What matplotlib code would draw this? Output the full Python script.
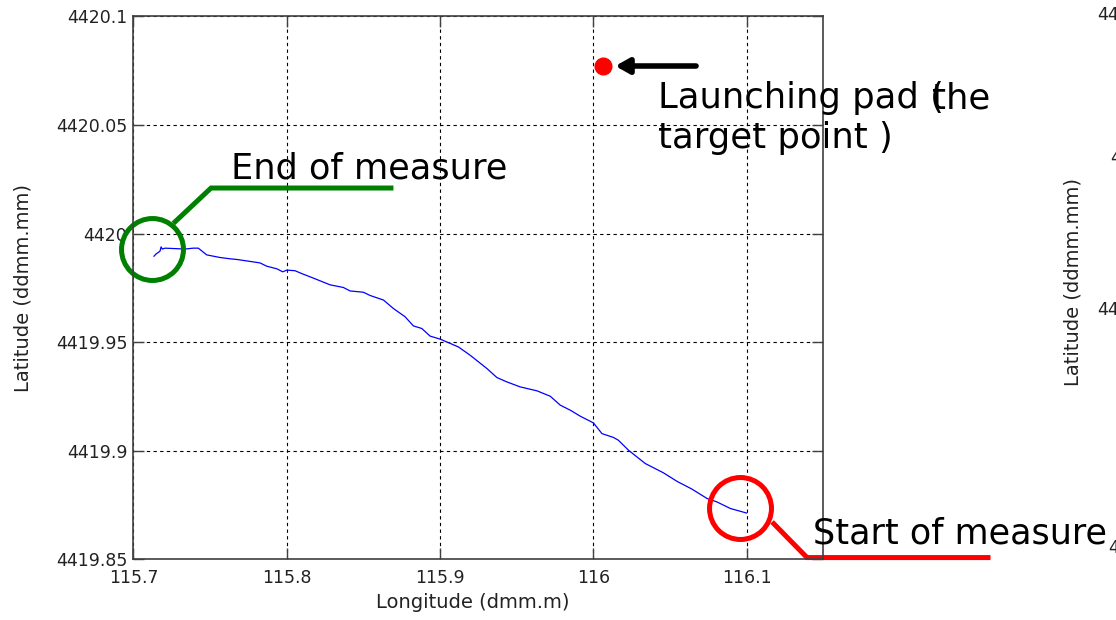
import matplotlib
matplotlib.use("Agg")
import matplotlib.pyplot as plt

# GPS track (longitude in dmm.m, latitude in ddmm.mm)
lon = [115.7134, 115.7147, 115.7173, 115.7180, 115.7188, 115.7206, 115.7304, 115.7336,
       115.7390, 115.7423, 115.7478, 115.7565, 115.7630, 115.7674, 115.7760, 115.7826,
       115.7869, 115.7935, 115.7974, 115.8000, 115.8054, 115.8108, 115.8163, 115.8283,
       115.8369, 115.8413, 115.8500, 115.8544, 115.8631, 115.8696, 115.8772, 115.8826,
       115.8881, 115.8935, 115.9001, 115.9120, 115.9196, 115.9305, 115.9371, 115.9436,
       115.9523, 115.9632, 115.9719, 115.9784, 115.9849, 115.9915, 116.0001, 116.0056,
       116.0132, 116.0164, 116.0230, 116.0339, 116.0458, 116.0546, 116.0644, 116.0742,
       116.0807, 116.0894, 116.1000]
lat = [4419.9896, 4419.9906, 4419.9919, 4419.9939, 4419.9929, 4419.9933, 4419.9930, 4419.9929,
       4419.9933, 4419.9933, 4419.9902, 4419.9890, 4419.9884, 4419.9881, 4419.9872, 4419.9865,
       4419.9850, 4419.9838, 4419.9824, 4419.9832, 4419.9829, 4419.9813, 4419.9798, 4419.9764,
       4419.9752, 4419.9736, 4419.9730, 4419.9715, 4419.9694, 4419.9655, 4419.9617, 4419.9575,
       4419.9563, 4419.9528, 4419.9514, 4419.9478, 4419.9440, 4419.9379, 4419.9337, 4419.9317,
       4419.9294, 4419.9276, 4419.9251, 4419.9210, 4419.9187, 4419.9159, 4419.9128, 4419.9079,
       4419.9061, 4419.9048, 4419.9002, 4419.8941, 4419.8898, 4419.8859, 4419.8823, 4419.8780,
       4419.8764, 4419.8734, 4419.8713]

# launching pad (target point)
pad_lon = [116.0063]
pad_lat = [4420.0772]

xticks = [115.7, 115.8, 115.9, 116.0, 116.1]
xtick_labels = ["115.7", "115.8", "115.9", "116", "116.1"]
yticks = [4419.85, 4419.9, 4419.95, 4420.0, 4420.05, 4420.1]
ytick_labels = ["4419.85", "4419.9", "4419.95", "4420", "4420.05", "4420.1"]

# callouts
end_circle = (115.7123, 4419.9927)
end_leader_x = [115.7260, 115.7506, 115.8696]
end_leader_y = [4420.0047, 4420.0210, 4420.0210]
start_circle = (116.0959, 4419.8738)
start_leader_x = [116.1166, 116.1394, 116.2591]
start_leader_y = [4419.8672, 4419.8508, 4419.8508]

fig = plt.figure(figsize=(11.16, 6.2), dpi=100)
ax = fig.add_axes([0.1196, 0.0979, 0.6181, 0.8755])

ax.plot(lon, lat, color="#0000ff", lw=0.9)
ax.plot(pad_lon, pad_lat, "o", color="red", ms=12, mec="red", clip_on=False)

ax.set_xlim(115.7, 116.15)
ax.set_ylim(4419.85, 4420.1)
ax.set_xticks(xticks)
ax.set_xticklabels(xtick_labels)
ax.set_yticks(yticks)
ax.set_yticklabels(ytick_labels)

ax.grid(True, color="black", linestyle=(0, (3, 3)), lw=0.8)
for s in ax.spines.values():
    s.set_color("#404040")
    s.set_linewidth(1.2)
ax.tick_params(direction="in", length=8, width=1, color="#404040",
               top=True, right=True, labelsize=12.5, labelcolor="#222222")
ax.tick_params(axis="x", pad=7)
ax.tick_params(axis="y", pad=4.5)

ax.set_xlabel("Longitude (dmm.m)", fontsize=14, color="#222222", va="top")
ax.set_ylabel("Latitude (ddmm.mm)", fontsize=14, color="#222222")
ax.xaxis.set_label_coords(0.492, -0.062)
ax.yaxis.set_label_coords(-0.147, 0.5)

# end of measure callout
ax.plot([end_circle[0]], [end_circle[1]], "o", ms=44.6, mfc="none", mec="#008000",
        mew=3.6, clip_on=False)
ax.plot(end_leader_x, end_leader_y, color="#008000", lw=3.6, clip_on=False,
        solid_capstyle="butt", solid_joinstyle="miter")
ax.text(115.7636, 4420.0256, "End of measure", fontsize=25.3, va="baseline")

# start of measure callout
ax.plot([start_circle[0]], [start_circle[1]], "o", ms=44.6, mfc="none", mec="red",
        mew=3.6, clip_on=False)
ax.plot(start_leader_x, start_leader_y, color="red", lw=3.6, clip_on=False,
        solid_capstyle="butt", solid_joinstyle="miter")
ax.text(116.1435, 4419.8572, "Start of measure", fontsize=25.2, va="baseline",
        clip_on=False)

# launching pad callout
ax.annotate("", xy=(116.0143, pad_lat[0]), xytext=(116.0670, pad_lat[0]),
            arrowprops=dict(arrowstyle="-|>,head_length=0.8,head_width=0.45",
                            color="black", lw=4, shrinkA=0, shrinkB=0),
            annotation_clip=False)
ax.text(116.0424, 4420.0577, "Launching pad (", fontsize=25.5, va="baseline",
        clip_on=False)
ax.text(116.2591, 4420.0577, "the", fontsize=25.5, va="baseline", ha="right",
        clip_on=False)
ax.text(116.0424, 4420.0394, "target point )", fontsize=25.5, va="baseline",
        clip_on=False)

# neighbouring panel, cut off at the right edge
fig.text(1073 / 1116, 1 - 282 / 620, "Latitude (ddmm.mm)", rotation=90,
         ha="center", va="center", fontsize=14, color="#222222", zorder=-1)
for ypx, xpx, lab in [(15, 1097, "4420.1"), (158, 1110, "4420"),
                      (310, 1097, "4419.9"), (548, 1108, "4419.8")]:
    fig.text(xpx / 1116, 1 - ypx / 620, lab, ha="left", va="center",
             fontsize=12.5, color="#222222", zorder=-1)

fig.savefig("out.png", dpi=100)
